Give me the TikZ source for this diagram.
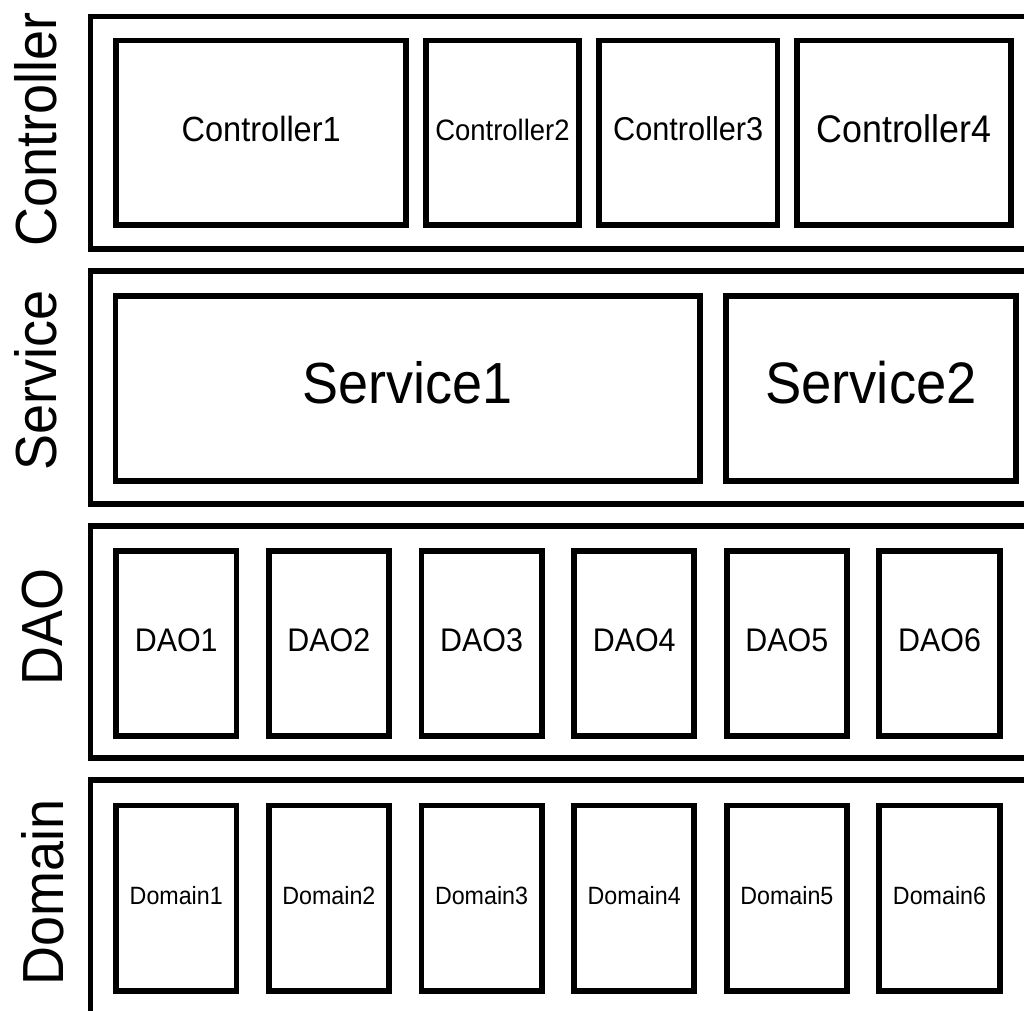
\documentclass[tikz,border=0pt]{standalone}
\usepackage{fontspec}
\setmainfont{Liberation Sans}[FakeStretch=0.93]
\newcommand\sz[1]{\fontsize{#1}{#1}\selectfont}
\tikzset{
  unit/.style={draw, rectangle, line width=5.8pt, inner sep=0pt,
    execute at begin node={\rule[-0.22em]{0pt}{0.72em}}},
  layer/.style={line width=5.8pt},
  sidelabel/.style={rotate=90, anchor=base, inner sep=0pt, font=\sz{58}}
}
\begin{document}
\begin{tikzpicture}[x=1pt,y=-1pt]
  % Configurable parameters
  \def\frameleft{90.5}
  \def\frameright{1040}
  \def\unitpitch{152.65}
  %
  % Canvas
  \clip (0,0) rectangle (1024,1010);
  \fill[white] (0,0) rectangle (1024,1010);
  %
  % Layer frames
  \draw[layer] (\frameleft,16.5) rectangle (\frameright,249);
  \draw[layer] (\frameleft,271) rectangle (\frameright,503.7);
  \draw[layer] (\frameleft,525.7) rectangle (\frameright,758);
  \draw[layer] (\frameleft,780.3) rectangle (\frameright,1030);
  %
  % Layer names
  \node[sidelabel] (namectrl) at (56,129.5) {Controller};
  \node[sidelabel] (namesvc) at (56,380.5) {Service};
  \node[sidelabel] (namedao) at (62,627) {DAO};
  \node[sidelabel] (namedom) at (63,892.5) {Domain};
  %
  % Controllers
  \node[unit, minimum width=289.7pt, minimum height=184.2pt, font=\sz{35}]
    (ctrl1) at (261.2,132.6) {Controller1};
  \node[unit, minimum width=153pt, minimum height=184.2pt, font=\sz{29.5}]
    (ctrl2) at (502.5,132.6) {Controller2};
  \node[unit, minimum width=178.5pt, minimum height=184.2pt, font=\sz{33}]
    (ctrl3) at (688.2,132.6) {Controller3};
  \node[unit, minimum width=214pt, minimum height=184.2pt, font=\sz{38.5}]
    (ctrl4) at (904,132.6) {Controller4};
  %
  % Services
  \node[unit, minimum width=584.8pt, minimum height=184.7pt, font=\sz{58}]
    (svc1) at (407.9,388.7) {Service1};
  \node[unit, minimum width=290.2pt, minimum height=184.7pt, font=\sz{58.5}]
    (svc2) at (870.9,388.7) {Service2};
  %
  % DAOs and domains
  \foreach \i in {1,...,6}{
    \node[unit, minimum width=120.3pt, minimum height=185.5pt, font=\sz{32.7}]
      (dao\i) at ({176.25+(\i-1)*\unitpitch},643.5) {DAO\i};
    \node[unit, minimum width=120.3pt, minimum height=185.7pt, font=\sz{25}]
      (dom\i) at ({176.25+(\i-1)*\unitpitch},898.3) {Domain\i};
  }
  %
\end{tikzpicture}
\end{document}
